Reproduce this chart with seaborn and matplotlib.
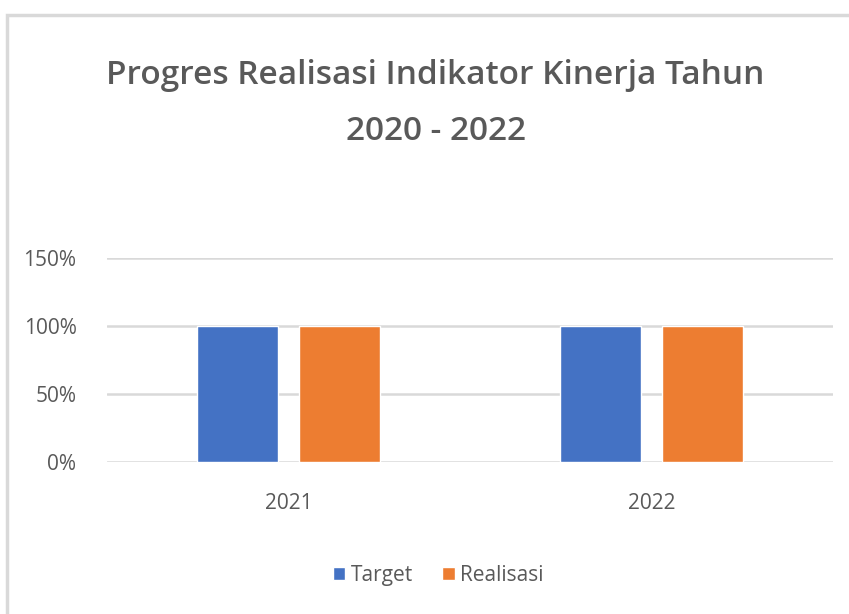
import matplotlib.pyplot as plt
import matplotlib.ticker as mtick
from matplotlib.patches import Rectangle
import pandas as pd
import seaborn as sns

# data
years = ["2021", "2022"]
target = [1.0, 1.0]
realisasi = [1.0, 1.0]
series_names = ["Target", "Realisasi"]
colors = ["#4472C4", "#ED7D31"]

df = pd.DataFrame({
    "Tahun": years * 2,
    "Nilai": target + realisasi,
    "Seri": [series_names[0]] * len(years) + [series_names[1]] * len(years),
})

sns.set_style("white")
plt.rcParams["font.family"] = ["Open Sans", "DejaVu Sans"]

fig = plt.figure(figsize=(8.49, 6.14), dpi=100)
ax = fig.add_axes([107 / 849, 1 - 462 / 614, 726 / 849, 204 / 614])

sns.barplot(data=df, x="Tahun", y="Nilai", hue="Seri", palette=colors,
            width=0.565, gap=0.21, ax=ax, legend=True, saturation=1)

ax.set_ylim(0, 1.5)
ax.set_yticks([0, 0.5, 1.0, 1.5])
ax.yaxis.set_major_formatter(mtick.PercentFormatter(1.0, decimals=0))
ax.grid(axis="y", color="#D9D9D9", linewidth=1.8)
ax.set_axisbelow(True)
for s in ax.spines.values():
    s.set_visible(False)
ax.set_xlabel("")
ax.set_ylabel("")
ax.tick_params(axis="both", colors="#595959", labelsize=15, length=0)
ax.tick_params(axis="y", pad=22)
ax.tick_params(axis="x", pad=22)

leg = ax.legend(loc="center", bbox_to_anchor=(0.456, -0.555), ncol=2, frameon=False,
                fontsize=15, handlelength=0.6, handleheight=0.6, handletextpad=0.25,
                columnspacing=1.4)
for t in leg.get_texts():
    t.set_color("#595959")

fig.text(0.513, 1 - 75 / 614, "Progres Realisasi Indikator Kinerja Tahun",
         ha="center", va="center", fontsize=24, fontweight="semibold", color="#595959")
fig.text(0.513, 1 - 131 / 614, "2020 - 2022",
         ha="center", va="center", fontsize=24, fontweight="semibold", color="#595959")

fig.patches.append(Rectangle((7 / 849, -0.05), 1.1, 1 - 15 / 614 + 0.05,
                             transform=fig.transFigure, fill=False,
                             edgecolor="#D9D9D9", linewidth=2.5))

fig.savefig("out.png", dpi=100)
